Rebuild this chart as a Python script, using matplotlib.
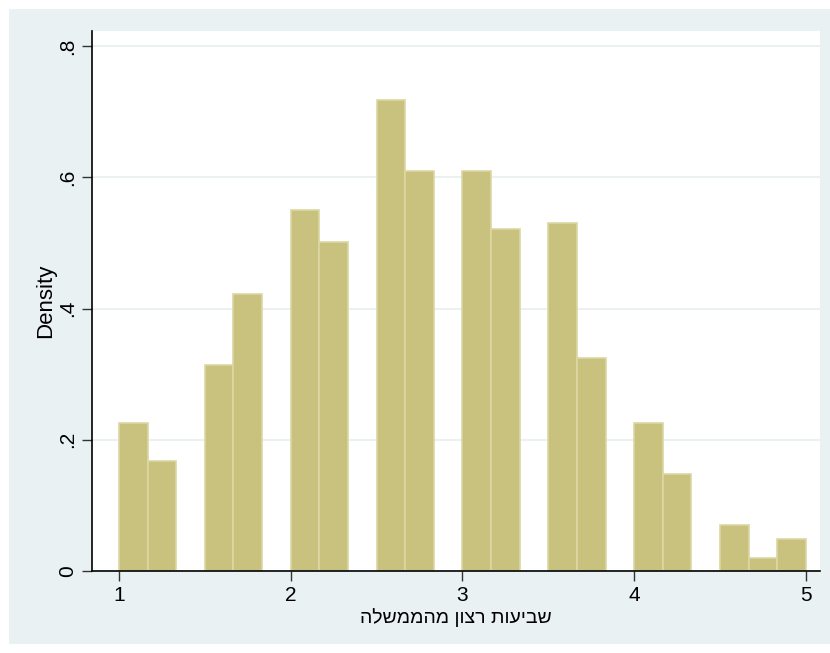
import matplotlib.pyplot as plt
from matplotlib.patches import Rectangle

# histogram data: bin left edges (width 1/6) and densities
bin_width = 1 / 6
bin_lefts = [1, 7/6, 1.5, 5/3, 2, 13/6, 2.5, 8/3, 3, 19/6, 3.5, 11/3,
             4, 25/6, 4.5, 14/3, 29/6]
density = [0.225, 0.168, 0.314, 0.422, 0.550, 0.501, 0.718, 0.610, 0.610,
           0.521, 0.530, 0.325, 0.225, 0.148, 0.070, 0.020, 0.049]

x_ticks = [1, 2, 3, 4, 5]
y_ticks = [0, 0.2, 0.4, 0.6, 0.8]
y_tick_labels = ['0', '.2', '.4', '.6', '.8']

x_title = 'שביעות רצון מהממשלה'
y_title = 'Density'

plt.rcParams['font.family'] = ['Liberation Sans', 'DejaVu Sans']

fig = plt.figure(figsize=(8.3, 6.53), dpi=100)
fig.patch.set_facecolor('white')
# light graph region (Stata style)
fig.patches.append(Rectangle((9 / 830, 9 / 653), 1 - 9 / 830, 1 - 18 / 653,
                             transform=fig.transFigure, facecolor='#eaf1f3',
                             edgecolor='none', zorder=-10))

ax = fig.add_axes([92 / 830, 1 - 571 / 653, (820 - 92) / 830, (571 - 31) / 653])
ax.set_zorder(1)
ax.set_facecolor('white')

ax.bar(bin_lefts, density, width=bin_width, align='edge',
       color='#c9c27f', edgecolor='#dcd7a4', linewidth=1.2, zorder=2)

ax.set_xlim(0.843, 5.0815)
ax.set_ylim(0, 0.8229)

ax.set_xticks(x_ticks)
ax.set_xticklabels([str(t) for t in x_ticks], fontsize=15)
ax.set_yticks(y_ticks)
ax.set_yticklabels(y_tick_labels, fontsize=15, rotation=90, va='center')
ax.tick_params(axis='both', length=7, width=1, color='#333333', pad=4)

ax.grid(axis='y', color='#e8eff1', linewidth=1.2, zorder=0)
ax.set_axisbelow(True)

for side in ['top', 'right']:
    ax.spines[side].set_visible(False)
for side in ['left', 'bottom']:
    ax.spines[side].set_color('black')
    ax.spines[side].set_linewidth(1.2)

# matplotlib has no bidi support, so reverse the Hebrew for display
ax.set_xlabel(x_title[::-1], fontsize=14, labelpad=2)
ax.set_ylabel(y_title, fontsize=16, labelpad=1)

fig.savefig('out.png', dpi=100)
